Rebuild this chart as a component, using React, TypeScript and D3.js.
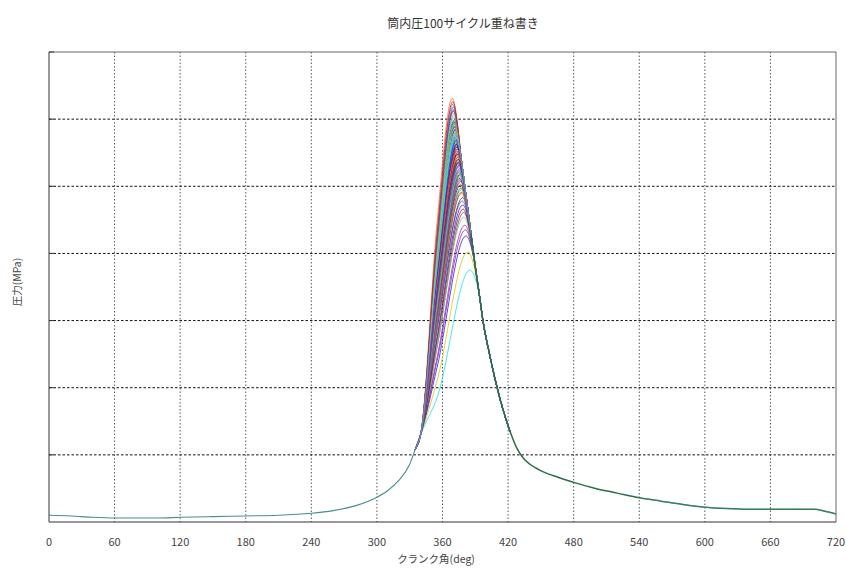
import React from "react";
import * as d3 from "d3";

// ---- data ----
const title = "筒内圧100サイクル重ね書き";
const xLabel = "クランク角(deg)";
const yLabel = "圧力(MPa)";
const xTicks = [0, 60, 120, 180, 240, 300, 360, 420, 480, 540, 600, 660, 720];
const yGrid = [1, 2, 3, 4, 5, 6];

// common compression (motoring) part
const motorAngle = [0, 20, 40, 60, 80, 100, 120, 150, 180, 210, 240, 260, 280, 300, 310, 320, 330, 335, 340];
const motorP = [0.1, 0.09, 0.07, 0.06, 0.06, 0.06, 0.07, 0.08, 0.09, 0.1, 0.13, 0.17, 0.24, 0.37, 0.47, 0.62, 0.86, 1.08, 1.3];

// common descending envelope after the peaks
const envAngle = [371, 374, 378, 382, 386, 390, 394, 397, 403, 410];
const envP = [6.2, 5.9, 5.3, 4.8, 4.3, 3.8, 3.35, 3.0, 2.5, 2.0];

// common expansion part
const expAngle = [410, 416, 422, 428, 434, 440, 448, 456, 465, 480, 500, 520, 540, 560, 580, 600, 620, 640, 660, 680, 700, 710, 720];
const expP = [2.0, 1.64, 1.34, 1.1, 0.95, 0.86, 0.78, 0.72, 0.67, 0.59, 0.5, 0.43, 0.36, 0.31, 0.26, 0.22, 0.2, 0.19, 0.19, 0.19, 0.19, 0.16, 0.12];

// per-cycle values (100 cycles)
const peakP = [
  5.62, 5.31, 5.88, 4.95, 5.47, 6.05, 5.12, 5.74, 4.61, 5.56,
  5.93, 5.28, 5.69, 5.04, 6.31, 5.41, 4.83, 5.79, 5.35, 5.97,
  4.42, 5.66, 5.18, 5.85, 5.52, 4.98, 6.12, 5.24, 5.71, 5.44,
  5.83, 5.09, 4.26, 5.63, 5.95, 5.37, 5.76, 4.89, 5.58, 6.18,
  5.21, 5.9, 5.48, 3.75, 5.67, 5.14, 5.81, 5.33, 4.72, 5.99,
  5.55, 6.08, 5.26, 5.72, 5.02, 5.86, 5.43, 4.54, 5.64, 5.92,
  5.16, 5.78, 5.39, 6.22, 5.6, 4.91, 5.84, 5.29, 5.7, 4.02,
  5.5, 5.96, 5.07, 5.65, 5.35, 6.02, 4.78, 5.81, 5.45, 5.23,
  5.89, 5.58, 4.35, 5.73, 5.11, 5.94, 5.4, 5.68, 6.14, 5.19,
  4.66, 5.77, 5.31, 5.87, 5.53, 4.97, 5.62, 6.26, 5.36, 5.8,
];
const peakA = [
  373, 375.5, 371, 377.5, 373.5, 370.5, 375.5, 372.5, 379.5, 374,
  371.5, 374.5, 373, 376, 369, 374.5, 378.5, 371.5, 375, 370.5,
  380.5, 373, 376, 372, 373.5, 377, 370, 375, 372, 374.5,
  371.5, 376.5, 381.5, 372.5, 371, 374.5, 372.5, 377.5, 373.5, 370,
  375.5, 371, 374, 385, 372.5, 376, 372, 374.5, 378.5, 371,
  373.5, 370.5, 375.5, 372.5, 376.5, 372, 374, 379.5, 373, 371,
  376, 372, 374.5, 369.5, 373, 377.5, 371.5, 375, 372.5, 383,
  374, 371, 376.5, 373, 374.5, 370.5, 378, 372, 374, 375.5,
  371.5, 373, 381, 372.5, 376, 371, 374.5, 372.5, 370, 375.5,
  379, 372, 375, 371.5, 373.5, 377, 373, 369.5, 374.5, 372,
];
const p355 = [
  3.6, 3.4, 3.85, 3.05, 3.45, 4.1, 3.1, 3.8, 2.6, 3.55,
  3.95, 3.3, 3.75, 3.1, 4.45, 3.4, 2.9, 3.8, 3.35, 4.0,
  2.45, 3.7, 3.2, 3.9, 3.5, 3.0, 4.15, 3.25, 3.7, 3.5,
  3.85, 3.1, 2.3, 3.65, 3.95, 3.4, 3.8, 2.95, 3.55, 4.2,
  3.25, 3.9, 3.5, 1.85, 3.7, 3.15, 3.85, 3.35, 2.75, 4.0,
  3.55, 4.1, 3.3, 3.75, 3.05, 3.85, 3.45, 2.6, 3.65, 3.95,
  3.2, 3.8, 3.4, 4.25, 3.6, 2.95, 3.85, 3.3, 3.7, 2.1,
  3.5, 3.95, 3.1, 3.65, 3.4, 4.0, 2.85, 3.8, 3.5, 3.25,
  3.9, 3.6, 2.4, 3.75, 3.15, 3.95, 3.45, 3.7, 4.15, 3.2,
  2.7, 3.75, 3.35, 3.9, 3.55, 3.0, 3.65, 4.3, 3.4, 3.8,
];

const palette = [
  "#3020d0", "#d02020", "#7a2fb0", "#40c8e0", "#c020c0", "#d8c800",
  "#303030", "#2050ff", "#8a3a8a", "#50d870", "#901010", "#20e0e0",
  "#5050a0", "#a0e060", "#ff6030", "#7a7a7a",
];

const W = 846;
const H = 568;
const M = { left: 49, right: 836, top: 52, bottom: 522 };

export default function App() {
  const x = d3.scaleLinear().domain([0, 720]).range([M.left, M.right]);
  const y = d3.scaleLinear().domain([0, 7]).range([M.bottom, M.top]);
  const line = d3
    .line<[number, number]>()
    .x((d) => x(d[0]))
    .y((d) => y(d[1]))
    .curve(d3.curveMonotoneX);

  const motorPts: [number, number][] = motorAngle.map((a, i) => [a, motorP[i]]);
  const expPts: [number, number][] = expAngle.map((a, i) => [a, expP[i]]);

  const cycles = peakP.map((pp, i) => {
    const pa = peakA[i];
    const pts: [number, number][] = [
      [motorAngle[motorAngle.length - 2], motorP[motorP.length - 2]],
      [motorAngle[motorAngle.length - 1], motorP[motorP.length - 1]],
      [355, p355[i]],
      [pa, pp],
    ];
    envAngle.forEach((a, j) => {
      if (a >= pa + 4 && envP[j] <= pp - 0.4) pts.push([a, envP[j]]);
    });
    pts.push(expPts[1], expPts[2]);
    return { d: line(pts) as string, color: palette[i % palette.length] };
  });

  const envTail: [number, number][] = envAngle
    .map((a, j) => [a, envP[j]] as [number, number])
    .filter((p) => p[0] >= 386);
  const tailPts = envTail.concat(expPts.slice(1));

  const font = "'Noto Sans CJK JP', 'Noto Sans', sans-serif";

  return (
    <svg
      width={W}
      height={H}
      style={{ position: "absolute", left: 0, top: 0, background: "#fff" }}
      fontFamily={font}
    >
      <rect x={0} y={0} width={W} height={H} fill="#fff" />
      <text x={463} y={28} textAnchor="middle" fontSize={12} fill="#333">
        {title}
      </text>

      {/* grid */}
      {xTicks.slice(1, -1).map((t) => (
        <line
          key={"vx" + t}
          x1={x(t)}
          x2={x(t)}
          y1={M.top}
          y2={M.bottom}
          stroke="#222"
          strokeWidth={1}
          strokeDasharray="1.5,2"
          opacity={0.75}
        />
      ))}
      {yGrid.map((v) => (
        <line
          key={"hy" + v}
          x1={M.left}
          x2={M.right}
          y1={y(v)}
          y2={y(v)}
          stroke="#111"
          strokeWidth={1}
          strokeDasharray="2.5,2"
        />
      ))}

      {/* curves */}
      <path d={line(motorPts) as string} fill="none" stroke="#4e8c8c" strokeWidth={1.1} />
      {cycles.map((c, i) => (
        <path key={i} d={c.d} fill="none" stroke={c.color} strokeWidth={0.8} />
      ))}
      <path d={line(tailPts) as string} fill="none" stroke="#2a6e44" strokeWidth={1.5} />
      <path d={line(expPts.slice(12)) as string} fill="none" stroke="#5aa8a0" strokeWidth={0.6} opacity={0.6} />

      {/* frame */}
      <line x1={M.left} x2={M.right} y1={M.top} y2={M.top} stroke="#666" />
      <line x1={M.right} x2={M.right} y1={M.top} y2={M.bottom} stroke="#666" />
      <line x1={M.left} x2={M.left} y1={M.top} y2={M.bottom} stroke="#333" />
      <line x1={M.left} x2={M.right} y1={M.bottom} y2={M.bottom} stroke="#333" />
      {yGrid.concat([7]).map((v) => (
        <line key={"yt" + v} x1={M.left} x2={M.left + 5} y1={y(v)} y2={y(v)} stroke="#333" />
      ))}

      {/* x tick labels */}
      {xTicks.map((t) => (
        <text key={"xl" + t} x={x(t)} y={546} textAnchor="middle" fontSize={11} fill="#444">
          {t}
        </text>
      ))}
      <text x={436} y={563} textAnchor="middle" fontSize={10.5} fill="#444">
        {xLabel}
      </text>
      <text
        x={0}
        y={0}
        transform={`translate(21,${282}) rotate(-90)`}
        textAnchor="middle"
        fontSize={10.5}
        fill="#444"
      >
        {yLabel}
      </text>
    </svg>
  );
}
